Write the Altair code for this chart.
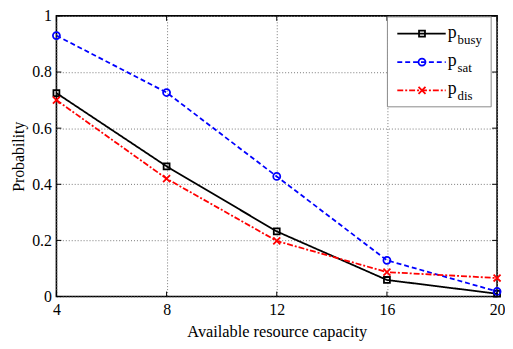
import altair as alt
import pandas as pd

# ---- data ----
capacity = [4, 8, 12, 16, 20]
p_busy = [0.725, 0.464, 0.232, 0.059, 0.010]
p_sat = [0.930, 0.727, 0.428, 0.129, 0.018]
p_dis = [0.700, 0.420, 0.198, 0.087, 0.066]
series_keys = ["busy", "sat", "dis"]
x_ticks = [4, 8, 12, 16, 20]
y_ticks = [0, 0.2, 0.4, 0.6, 0.8, 1.0]

W, H = 446, 284
FONT = "Liberation Serif"

colors = {"busy": "#000000", "sat": "#0000ff", "dis": "#ff0000"}
dashes = {"busy": [1, 0], "sat": [5, 3], "dis": [6, 2, 2, 2]}
shapes = {"busy": "square", "sat": "circle", "dis": "M-1,-1L1,1M-1,1L1,-1"}
sizes = {"busy": 36, "sat": 50, "dis": 50}
values = {"busy": p_busy, "sat": p_sat, "dis": p_dis}

xscale = alt.Scale(domain=[4, 20], nice=False, zero=False)
yscale = alt.Scale(domain=[0, 1], nice=False)

xaxis = alt.Axis(values=x_ticks, grid=True, gridDash=[1, 2], gridColor="#777",
                 gridOpacity=1, ticks=False, domain=False, labelFont=FONT,
                 labelFontSize=16, labelColor="black", labelPadding=5,
                 title="Available resource capacity", titleFont=FONT,
                 titleFontSize=16.5, titleFontWeight="normal", titleColor="black",
                 titlePadding=6, labelFlush=False)
yaxis = alt.Axis(values=y_ticks, grid=True, gridDash=[1, 2], gridColor="#777",
                 gridOpacity=1, ticks=False, domain=False, labelFont=FONT,
                 labelFontSize=16, labelColor="black", labelPadding=5,
                 labelExpr="datum.value == 0 ? '0' : datum.value == 1 ? '1' : format(datum.value, '.1f')",
                 title="Probability", titleFont=FONT, titleFontSize=16,
                 titleFontWeight="normal", titleColor="black", titlePadding=5,
                 labelFlush=False)

XE = alt.X("x:Q", scale=xscale, axis=xaxis)
YE = alt.Y("y:Q", scale=yscale, axis=yaxis)

layers = []
for k in series_keys:
    df = pd.DataFrame({"x": capacity, "y": values[k]})
    line = alt.Chart(df).mark_line(color=colors[k], strokeWidth=1.8,
                                   strokeDash=dashes[k]).encode(x=XE, y=YE)
    pts = alt.Chart(df).mark_point(shape=shapes[k], filled=False,
                                   color=colors[k], size=sizes[k],
                                   strokeWidth=1.8, opacity=1).encode(x=XE, y=YE)
    layers += [line, pts]

# inward ticks like the original frame
xt = pd.DataFrame({"x": x_ticks})
yt = pd.DataFrame({"y": y_ticks})
tick_x_bot = alt.Chart(xt).mark_rule(color="black").encode(
    x=XE, y=alt.value(H), y2=alt.value(H - 5))
tick_x_top = alt.Chart(xt).mark_rule(color="black").encode(
    x=XE, y=alt.value(0), y2=alt.value(5))
tick_y_l = alt.Chart(yt).mark_rule(color="black").encode(
    y=YE, x=alt.value(0), x2=alt.value(5))
tick_y_r = alt.Chart(yt).mark_rule(color="black").encode(
    y=YE, x=alt.value(W), x2=alt.value(W - 5))
layers += [tick_x_bot, tick_x_top, tick_y_l, tick_y_r]

# custom legend (subscripts)
box = alt.Chart(pd.DataFrame({"a": [0]})).mark_rect(
    fill="white", stroke="#888", strokeWidth=1).encode(
    x=alt.value(335), x2=alt.value(440), y=alt.value(1), y2=alt.value(92))
layers.append(box)
for i, k in enumerate(series_keys):
    yp = 18 + 28.7 * i
    one = pd.DataFrame({"a": [0]})
    layers.append(alt.Chart(one).mark_rule(color=colors[k], strokeWidth=1.8,
                                           strokeDash=dashes[k]).encode(
        x=alt.value(345), x2=alt.value(394), y=alt.value(yp)))
    layers.append(alt.Chart(one).mark_point(shape=shapes[k], filled=False,
                                            color=colors[k], size=sizes[k],
                                            strokeWidth=1.8, opacity=1).encode(
        x=alt.value(370), y=alt.value(yp)))
    layers.append(alt.Chart(one).mark_text(text="p", font=FONT, fontSize=18,
                                           align="left", baseline="alphabetic",
                                           color="black").encode(
        x=alt.value(396), y=alt.value(yp + 4)))
    layers.append(alt.Chart(one).mark_text(text=k, font=FONT, fontSize=13,
                                           align="left", baseline="alphabetic",
                                           color="black").encode(
        x=alt.value(406), y=alt.value(yp + 10)))

chart = alt.layer(*layers).properties(
    width=W, height=H,
    autosize=alt.AutoSizeParams(type="none"),
    padding={"left": 49, "top": 6, "right": 8, "bottom": 43},
).configure_view(stroke="black", strokeWidth=1.6)

chart.save("out.html", embed_options={"renderer": "svg", "actions": False})
